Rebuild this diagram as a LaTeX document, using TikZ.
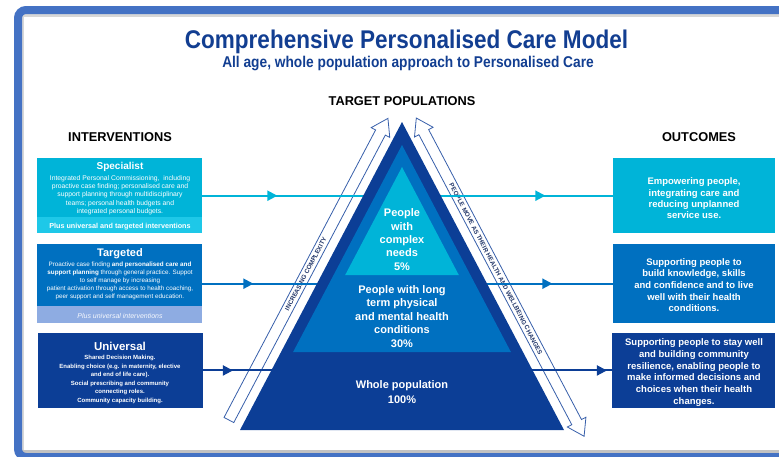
\documentclass[tikz,border=0pt]{standalone}
\usepackage{fontspec}
\setmainfont{Liberation Sans}
\newfontfamily\narrowfont[FakeStretch=0.88]{Liberation Sans}
\usetikzlibrary{arrows.meta,decorations.markings}
\definecolor{navy}{RGB}{12,62,150}
\definecolor{midblue}{RGB}{0,112,192}
\definecolor{cyanb}{RGB}{0,180,216}
\definecolor{cyanlight}{RGB}{30,200,232}
\definecolor{lightperi}{RGB}{142,172,226}
\definecolor{framebl}{RGB}{68,114,196}
\definecolor{titleblue}{RGB}{18,62,145}
\definecolor{bandline}{RGB}{55,95,170}
\definecolor{bandtext}{RGB}{35,55,105}
\definecolor{framegrey}{RGB}{215,215,215}
\newcommand\fsz[2]{\fontsize{#1}{#2}\selectfont}
\tikzset{
  boxshape/.style={minimum width=165pt, inner sep=0pt, anchor=north west},
  wtext/.style={text=white, align=center, inner sep=0pt},
  head/.style={text=black, font=\bfseries\fsz{12.8}{15}, inner sep=0pt},
  band/.style={draw=bandline, fill=white, line width=0.8pt},
  bandlabel/.style={text=bandtext, font=\bfseries\fsz{6.3}{7}, inner sep=0pt},
  arrowsat/.style 2 args={decoration={markings,
     mark=at position #1 with {\arrow{Triangle[length=10pt,width=10pt]}},
     mark=at position #2 with {\arrow{Triangle[length=10pt,width=10pt]}}},
     postaction={decorate}},
}
\begin{document}
\begin{tikzpicture}[x=1pt,y=-1pt]
\useasboundingbox (0,0) rectangle (779,456);
\clip (0,0) rectangle (779,456);
% frame
\draw[framegrey, line width=3pt] (22,15.5) -- (779,15.5);
\draw[framegrey, line width=1.5pt] (22.75,14) -- (22.75,452);
\draw[framegrey!90!black, line width=3pt] (22,451.5) -- (779,451.5);
\draw[framebl, line width=8pt, rounded corners=8pt] (18,10) -- (830,10) -- (830,457) -- (18,457) -- cycle;

% titles
\node[font=\narrowfont\bfseries\fsz{25.6}{29}, text=titleblue, inner sep=0pt] (title) at (406.5,41.5) {Comprehensive Personalised Care Model};
\node[font=\narrowfont\bfseries\fsz{15.6}{18}, text=titleblue, inner sep=0pt] (subtitle) at (408,63) {All age, whole population approach to Personalised Care};
\node[head] (hint) at (120,137) {INTERVENTIONS};
\node[head] (hout) at (699,137) {OUTCOMES};
\node[head] (htp) at (402,101) {TARGET POPULATIONS};

% left boxes
\node[boxshape, fill=cyanb, minimum height=75pt] (spec) at (37,158) {};
\node[boxshape, fill=cyanlight, minimum height=16pt, anchor=south west] (specstrip) at (spec.south west) {};
\node[boxshape, fill=midblue, minimum height=79pt] (targ) at (37,244) {};
\node[boxshape, fill=lightperi, minimum height=17pt, anchor=south west] (targstrip) at (targ.south west) {};
\node[boxshape, fill=navy, minimum height=75.5pt] (univ) at (37.5,332.5) {};

% right boxes
\node[boxshape, fill=cyanb, minimum width=162pt, minimum height=75pt] (out1) at (613,158) {};
\node[boxshape, fill=midblue, minimum width=162pt, minimum height=79pt] (out2) at (613,244) {};
\node[boxshape, fill=navy, minimum width=163pt, minimum height=75.5pt] (out3) at (612,332.5) {};

% left box texts
\node[wtext, font=\bfseries\fsz{10}{12}] (spect) at (120,167.3) {Specialist};
\node[wtext, font=\fsz{6.8}{8.35}] (specb) at (120,195) {Integrated Personal Commissioning,\ \ including\\proactive case finding; personalised care and\\support planning through multidisciplinary\\teams; personal health budgets and\\integrated personal budgets.};
\node[wtext, font=\bfseries\fsz{7.2}{8}] (specs) at (120,226.5) {Plus universal and targeted interventions};

\node[wtext, font=\bfseries\fsz{11}{13}] (targt) at (120,254) {Targeted};
\node[wtext, font=\fsz{6.3}{7.9}] (targb) at (120,280.8) {Proactive case finding \textbf{and personalised care and}\\\textbf{support planning} through general practice. Suppot\\to self manage by increasing\\patient activation through access to health coaching,\\peer support and self management education.};
\node[wtext, text=white!92!lightperi, font=\itshape\fsz{7}{8}] (targs) at (120,315.5) {Plus universal interventions};

\node[wtext, font=\bfseries\fsz{11.5}{13}] (univt) at (120,346) {Universal};
\node[wtext, font=\bfseries\fsz{6}{8.6}] (univb) at (120,379.5) {Shared Decision Making.\\Enabling choice (e.g. in maternity, elective\\and end of life care).\\Social prescribing and community\\connecting roles.\\Community capacity building.};

% right box texts
\node[wtext, font=\bfseries\fsz{9.5}{11.2}] (out1t) at (694,198.3) {Empowering people,\\integrating care and\\reducing unplanned\\service use.};
\node[wtext, font=\bfseries\fsz{9.5}{11.6}] (out2t) at (694,285) {Supporting people to\\build knowledge, skills\\and confidence and to live\\well with their health\\conditions.};
\node[wtext, font=\bfseries\fsz{9.5}{11.7}] (out3t) at (694,372.5) {Supporting people to stay well\\and building community\\resilience, enabling people to\\make informed decisions and\\choices when their health\\changes.};

% outline arrows
\begin{scope}[shift={(228.9,420)}, rotate=62.2]
  \draw[band] (0,-5.5) -- (325,-5.5) -- (325,-10.5) -- (341,0) -- (325,10.5) -- (325,5.5) -- (0,5.5) -- cycle;
  \node[bandlabel, rotate=62.2] (lbl1) at (165,0) {INCREASING COMPLEXITY};
\end{scope}
\begin{scope}[shift={(416.3,118)}, rotate=-62.2]
  \draw[band] (0,0) -- (16,-10.5) -- (16,-5.5) -- (343.8,-5.5) -- (343.8,-10.5) -- (359.8,0) -- (343.8,10.5) -- (343.8,5.5) -- (16,5.5) -- (16,10.5) -- cycle;
  \node[bandlabel, rotate=-62.2] (lbl2) at (170.6,0) {PEOPLE MOVE AS THEIR HEALTH AND WELLBEING CHANGES};
\end{scope}

% connectors
\draw[cyanb, line width=2pt, arrowsat={75pt}{343pt}] (spec.east) -- (out1.west);
\draw[midblue, line width=2pt, arrowsat={51pt}{350pt}] (targ.east) -- (out2.west);
\draw[navy, line width=2pt, arrowsat={30pt}{404pt}] (univ.east) -- (out3.west);

% pyramid
\fill[navy] (402,122) -- (564,430) -- (240,430) -- cycle;
\fill[midblue] (402,145) -- (510.9,352) -- (293.1,352) -- cycle;
\fill[cyanb] (402,167) -- (458.8,275) -- (345.2,275) -- cycle;
\node[wtext, font=\bfseries\fsz{11}{13.3}] (p5) at (402,239.5) {People\\with\\complex\\needs\\5\%};
\node[wtext, font=\bfseries\fsz{11}{13.5}] (p30) at (402,316.3) {People with long\\term physical\\and mental health\\conditions\\30\%};
\node[wtext, font=\bfseries\fsz{11}{14.3}] (p100) at (402,392) {Whole population\\100\%};
\end{tikzpicture}
\end{document}
